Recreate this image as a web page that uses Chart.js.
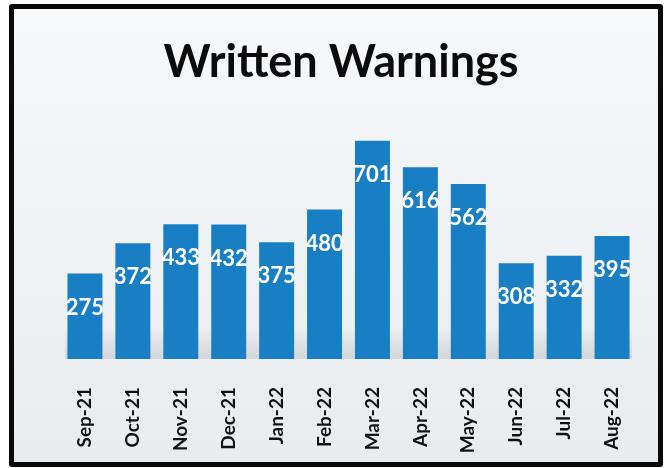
<!DOCTYPE html>
<html>
<head>
<meta charset="utf-8">
<script src="https://cdn.jsdelivr.net/npm/chart.js@4.4.1/dist/chart.umd.min.js"></script>
<style>
  html, body { margin: 0; padding: 0; background: #fff; }
  #frame {
    position: absolute; left: 9px; top: 4px;
    width: 654px; height: 463px;
    box-sizing: border-box;
    border: 5px solid #0a0a0a; border-radius: 3px;
    background: linear-gradient(180deg, #f7f8fa 0%, #eef1f4 60%, #e9ecef 100%);
  }
  #chart { display: block; }
</style>
</head>
<body>
<div id="frame"><canvas id="chart" width="644" height="453"></canvas></div>
<script>
// ====== DATA ======
const months = ['Sep-21','Oct-21','Nov-21','Dec-21','Jan-22','Feb-22','Mar-22','Apr-22','May-22','Jun-22','Jul-22','Aug-22'];
const warnings = [275, 372, 433, 432, 375, 480, 701, 616, 562, 308, 332, 395];
const chartTitle = 'Written Warnings';

const BAR_BLUE = 'rgb(24,127,197)';
const FONT = 'Lato, "Open Sans", sans-serif';

// value labels drawn inside the top of each bar
const valueLabels = {
  id: 'valueLabels',
  afterDatasetsDraw(chart){
    const ctx = chart.ctx;
    const meta = chart.getDatasetMeta(0);
    ctx.save();
    ctx.fillStyle = '#fff';
    ctx.font = 'bold 22px ' + FONT;
    ctx.textAlign = 'center';
    ctx.textBaseline = 'middle';
    meta.data.forEach((bar, i) => {
      ctx.fillText(String(warnings[i]), bar.x, bar.y + 34);
    });
    ctx.restore();
  }
};

// soft grey shadow band behind the bar bases
const baseShadow = {
  id: 'baseShadow',
  beforeDatasetsDraw(chart){
    const { ctx, chartArea } = chart;
    const y0 = chartArea.bottom - 32;
    const g = ctx.createLinearGradient(0, y0, 0, chartArea.bottom);
    g.addColorStop(0, 'rgba(120,125,130,0)');
    g.addColorStop(1, 'rgba(120,125,130,0.22)');
    ctx.save();
    ctx.fillStyle = g;
    ctx.fillRect(chartArea.left + 4, y0, chartArea.right - chartArea.left - 8, 32);
    ctx.restore();
  }
};

new Chart(document.getElementById('chart'), {
  type: 'bar',
  data: {
    labels: months,
    datasets: [{
      data: warnings,
      backgroundColor: BAR_BLUE,
      barPercentage: 0.73,
      categoryPercentage: 1.0
    }]
  },
  options: {
    responsive: false,
    animation: false,
    layout: { padding: { left: 32, right: 22, top: 0, bottom: 0 } },
    plugins: {
      legend: { display: false },
      tooltip: { enabled: false },
      title: {
        display: true,
        text: chartTitle,
        color: '#0b0b0b',
        font: { family: FONT, size: 45, weight: 'bold' },
        padding: { top: 26, bottom: 21 }
      }
    },
    scales: {
      x: {
        grid: { display: false },
        border: { display: false },
        ticks: {
          color: '#111',
          font: { family: FONT, size: 19, weight: 'bold' },
          minRotation: 90, maxRotation: 90,
          padding: 20
        },
        afterFit(scale){ scale.height = 103; }
      },
      y: {
        min: 0,
        max: 800,
        grid: { display: false },
        border: { display: false },
        ticks: { display: false },
        afterFit(scale){ scale.width = 15; }
      }
    }
  },
  plugins: [baseShadow, valueLabels]
});
</script>
</body>
</html>
